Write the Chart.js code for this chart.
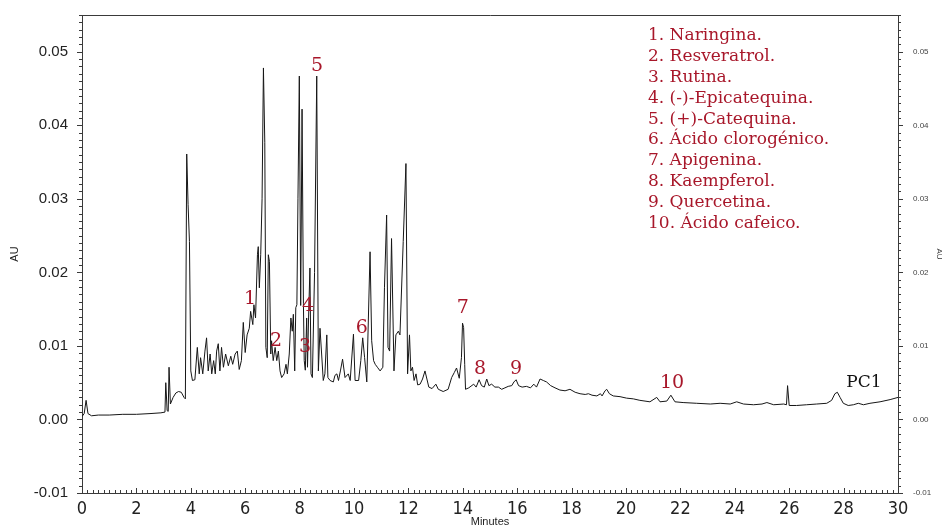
<!DOCTYPE html>
<html>
<head>
<meta charset="utf-8">
<script src="https://cdn.jsdelivr.net/npm/chart.js@4.4.1/dist/chart.umd.min.js"></script>
<style>
html,body{margin:0;padding:0;background:#fff;}
#wrap{width:946px;height:529px;}
</style>
</head>
<body>
<div id="wrap"><canvas id="c" width="946" height="529"></canvas></div>
<script>
// ---- data ----
const xTickValues = [0,2,4,6,8,10,12,14,16,18,20,22,24,26,28,30];
const yTickValues = [-0.01,0,0.01,0.02,0.03,0.04,0.05];

const times = [
 0.00,0.08,0.15,0.22,0.35,0.6,1.0,1.5,2.0,2.5,2.9,3.05,3.08,3.13,3.17,3.2,3.25,3.35,3.45,3.55,
 3.65,3.75,3.80,3.85,3.90,3.95,4.00,4.06,4.15,4.24,4.31,4.36,4.44,4.52,4.58,4.64,4.71,4.77,4.84,4.90,
 4.95,5.01,5.07,5.13,5.20,5.28,5.38,5.47,5.54,5.63,5.71,5.78,5.86,5.93,6.00,6.07,6.15,6.20,6.28,6.32,
 6.38,6.45,6.48,6.52,6.57,6.62,6.67,6.72,6.76,6.81,6.85,6.89,6.94,6.97,7.03,7.10,7.16,7.22,7.28,7.34,
 7.43,7.50,7.55,7.62,7.68,7.73,7.77,7.82,7.86,7.90,7.94,7.99,8.04,8.09,8.14,8.17,8.21,8.26,8.29,8.33,
 8.38,8.42,8.47,8.55,8.63,8.69,8.75,8.81,8.87,8.93,9.00,9.04,9.12,9.24,9.30,9.37,9.43,9.50,9.58,9.67,
 9.79,9.86,9.98,10.04,10.17,10.25,10.32,10.39,10.47,10.59,10.65,10.72,10.78,10.86,10.96,11.06,11.12,11.20,11.25,11.31,
 11.38,11.47,11.54,11.63,11.69,11.81,11.91,11.97,12.04,12.09,12.15,12.21,12.28,12.34,12.43,12.52,12.61,12.75,12.87,13.01,
 13.10,13.28,13.46,13.59,13.69,13.77,13.87,13.95,13.99,14.03,14.07,14.10,14.22,14.40,14.49,14.60,14.69,14.79,14.88,14.96,
 15.06,15.18,15.31,15.43,15.55,15.67,15.80,15.88,15.96,16.05,16.18,16.34,16.49,16.61,16.71,16.84,16.96,17.08,17.23,17.39,
 17.57,17.76,17.94,18.13,18.31,18.50,18.62,18.75,18.93,19.06,19.12,19.23,19.29,19.39,19.53,19.78,20.02,20.27,20.51,20.88,
 21.13,21.25,21.50,21.65,21.80,22.10,22.60,23.10,23.46,23.83,24.07,24.32,24.69,25.00,25.18,25.43,25.80,25.90,25.94,26.00,
 26.27,26.64,27.01,27.38,27.56,27.68,27.77,27.87,27.99,28.17,28.36,28.54,28.73,28.97,29.34,29.71,30.00
];
const absorbance = [
 0.0004,0.0008,0.0026,0.0008,0.0005,0.0006,0.0006,0.0007,0.0007,0.0008,0.0009,0.0010,0.0050,0.0012,0.0011,0.0071,0.0021,0.0030,0.0036,0.0038,
 0.0037,0.0030,0.0028,0.0361,0.0292,0.0242,0.0066,0.0053,0.0054,0.0098,0.0062,0.0084,0.0062,0.0093,0.0111,0.0066,0.0089,0.0062,0.0080,0.0062,
 0.0093,0.0103,0.0066,0.0098,0.0071,0.0089,0.0073,0.0086,0.0075,0.0089,0.0093,0.0068,0.0080,0.0132,0.0091,0.0115,0.0124,0.0147,0.0129,0.0156,
 0.0138,0.0224,0.0235,0.0179,0.0224,0.0300,0.0478,0.0377,0.0098,0.0084,0.0224,0.0215,0.0089,0.0107,0.0080,0.0098,0.0080,0.0093,0.0066,0.0057,
 0.0062,0.0075,0.0062,0.0089,0.0138,0.0120,0.0143,0.0066,0.0152,0.0156,0.0300,0.0467,0.0155,0.0422,0.0158,0.0080,0.0067,0.0138,0.0071,0.0138,
 0.0206,0.0062,0.0057,0.0200,0.0467,0.0066,0.0124,0.0089,0.0053,0.0062,0.0115,0.0057,0.0053,0.0051,0.0060,0.0062,0.0053,0.0066,0.0082,0.0057,
 0.0062,0.0053,0.0116,0.0053,0.0053,0.0080,0.0111,0.0084,0.0051,0.0228,0.0107,0.0080,0.0075,0.0071,0.0066,0.0071,0.0179,0.0278,0.0098,0.0093,
 0.0246,0.0066,0.0115,0.0120,0.0115,0.0242,0.0348,0.0062,0.0115,0.0066,0.0071,0.0053,0.0062,0.0047,0.0048,0.0055,0.0066,0.0044,0.0042,0.0048,
 0.0041,0.0038,0.0041,0.0057,0.0064,0.0070,0.0056,0.0084,0.0131,0.0125,0.0075,0.0041,0.0043,0.0048,0.0044,0.0054,0.0046,0.0044,0.0055,0.0046,
 0.0048,0.0044,0.0044,0.0041,0.0043,0.0045,0.0046,0.0051,0.0054,0.0046,0.0044,0.0045,0.0043,0.0048,0.0044,0.0055,0.0053,0.0051,0.0046,0.0043,
 0.0040,0.0039,0.0041,0.0037,0.0035,0.0034,0.0035,0.0033,0.0032,0.0035,0.0032,0.0039,0.0041,0.0035,0.0032,0.0031,0.0029,0.0028,0.0026,0.0024,
 0.0030,0.0024,0.0025,0.0033,0.0024,0.0023,0.0022,0.0021,0.0022,0.0021,0.0024,0.0021,0.0020,0.0021,0.0023,0.0020,0.0021,0.0020,0.0046,0.0019,
 0.0019,0.0020,0.0021,0.0022,0.0026,0.0035,0.0037,0.0030,0.0022,0.0019,0.0020,0.0022,0.0020,0.0022,0.0024,0.0027,0.0030
];

const compoundNames = [
 '1. Naringina.','2. Resveratrol.','3. Rutina.','4. (-)-Epicatequina.','5. (+)-Catequina.',
 '6. Ácido clorogénico.','7. Apigenina.','8. Kaempferol.','9. Quercetina.','10. Ácido cafeico.'
];
const peakLabels = ['1','2','3','4','5','6','7','8','9','10','PC1'];
const peakLabelTimes = [6.18,7.13,8.20,8.31,8.64,10.29,14.00,14.63,15.96,21.69,28.75];
const peakLabelAU = [0.0164,0.0107,0.0099,0.0154,0.0481,0.0124,0.0151,0.0069,0.0069,0.0049,0.0050];

// ---- styles ----
const axisColor = '#3a3a3a';
const red = '#a8172a';
const serif = "'DejaVu Serif', 'Liberation Serif', serif";

const decorPlugin = {
  id: 'decor',
  afterDraw(chart) {
    const {ctx, chartArea: a, scales} = chart;
    ctx.save();
    ctx.strokeStyle = axisColor;
    ctx.lineWidth = 1;
    ctx.beginPath();
    // top frame line
    ctx.moveTo(a.left, a.top + 0.5); ctx.lineTo(a.right + 0.5, a.top + 0.5);
    // y ticks (left and right)
    for (let i = -10; i <= 55; i++) {
      const py = Math.round(scales.y.getPixelForValue(i / 1000)) + 0.5;
      const len = (i % 10 === 0) ? 5 : 3;
      ctx.moveTo(a.left - len, py); ctx.lineTo(a.left, py);
      ctx.moveTo(a.right, py); ctx.lineTo(a.right + len, py);
    }
    // x ticks
    for (let i = 0; i <= 150; i++) {
      const px = Math.round(scales.x.getPixelForValue(i / 5)) + 0.5;
      const len = (i % 10 === 0) ? 5 : 3;
      ctx.moveTo(px, a.bottom); ctx.lineTo(px, a.bottom - len);
    }
    ctx.stroke();

    // peak labels
    ctx.textAlign = 'center';
    ctx.textBaseline = 'middle';
    peakLabels.forEach((lab, i) => {
      const px = scales.x.getPixelForValue(peakLabelTimes[i]);
      const py = scales.y.getPixelForValue(peakLabelAU[i]);
      ctx.fillStyle = lab === 'PC1' ? '#111' : red;
      ctx.font = (lab === 'PC1' ? '17px ' : '19px ') + serif;
      ctx.fillText(lab, px, py);
    });

    // compound legend
    ctx.textAlign = 'left';
    ctx.fillStyle = red;
    ctx.font = '17px ' + serif;
    compoundNames.forEach((name, i) => {
      ctx.fillText(name, a.left + 566, a.top + 21 + i * 20.8);
    });
    ctx.restore();
  }
};

const yBase = {
  type: 'linear', min: -0.01, max: 0.055,
  afterBuildTicks: s => { s.ticks = yTickValues.map(v => ({value: v})); },
  grid: {display: false},
  border: {display: true, color: axisColor, width: 1}
};

new Chart(document.getElementById('c'), {
  type: 'line',
  data: {
    datasets: [{
      data: times.map((t, i) => ({x: t, y: absorbance[i]})),
      borderColor: '#161616',
      borderWidth: 1,
      pointRadius: 0,
      tension: 0,
      fill: false
    }]
  },
  options: {
    responsive: false,
    animation: false,
    layout: {padding: {top: 12, left: 0, right: 0, bottom: 0}},
    plugins: {legend: {display: false}, tooltip: {enabled: false}},
    scales: {
      x: {
        type: 'linear', min: 0, max: 30,
        afterBuildTicks: s => { s.ticks = xTickValues.map(v => ({value: v})); },
        afterFit: s => { s.height = 36; },
        grid: {display: false},
        border: {display: true, color: axisColor, width: 1},
        ticks: {autoSkip: false, maxRotation: 0, padding: -2, color: '#222',
                font: {family: "'Liberation Sans Narrow', 'DejaVu Sans Condensed', 'Liberation Sans'", size: 18},
                callback: v => String(v)},
        title: {display: true, text: 'Minutes', color: '#222', padding: {top: 0, bottom: 0},
                font: {family: "'Liberation Sans', Arial", size: 11}}
      },
      y: Object.assign({}, yBase, {
        position: 'left',
        afterFit: s => { s.width = 82; },
        ticks: {padding: 6, color: '#222', font: {family: "'Liberation Sans', Arial", size: 15},
                callback: v => Number(v).toFixed(2)},
        title: {display: true, text: 'AU', color: '#222', padding: {top: 8, bottom: 0},
                font: {family: "'Liberation Sans', Arial", size: 11}}
      }),
      y2: Object.assign({}, yBase, {
        position: 'right',
        afterFit: s => { s.width = 48; },
        ticks: {padding: 7, color: '#444', font: {family: "'Liberation Sans', Arial", size: 8},
                callback: v => Number(v).toFixed(2)},
        title: {display: true, text: 'AU', color: '#333', padding: {top: 2, bottom: 0},
                font: {family: "'Liberation Sans', Arial", size: 8}}
      })
    }
  },
  plugins: [decorPlugin]
});
</script>
</body>
</html>
